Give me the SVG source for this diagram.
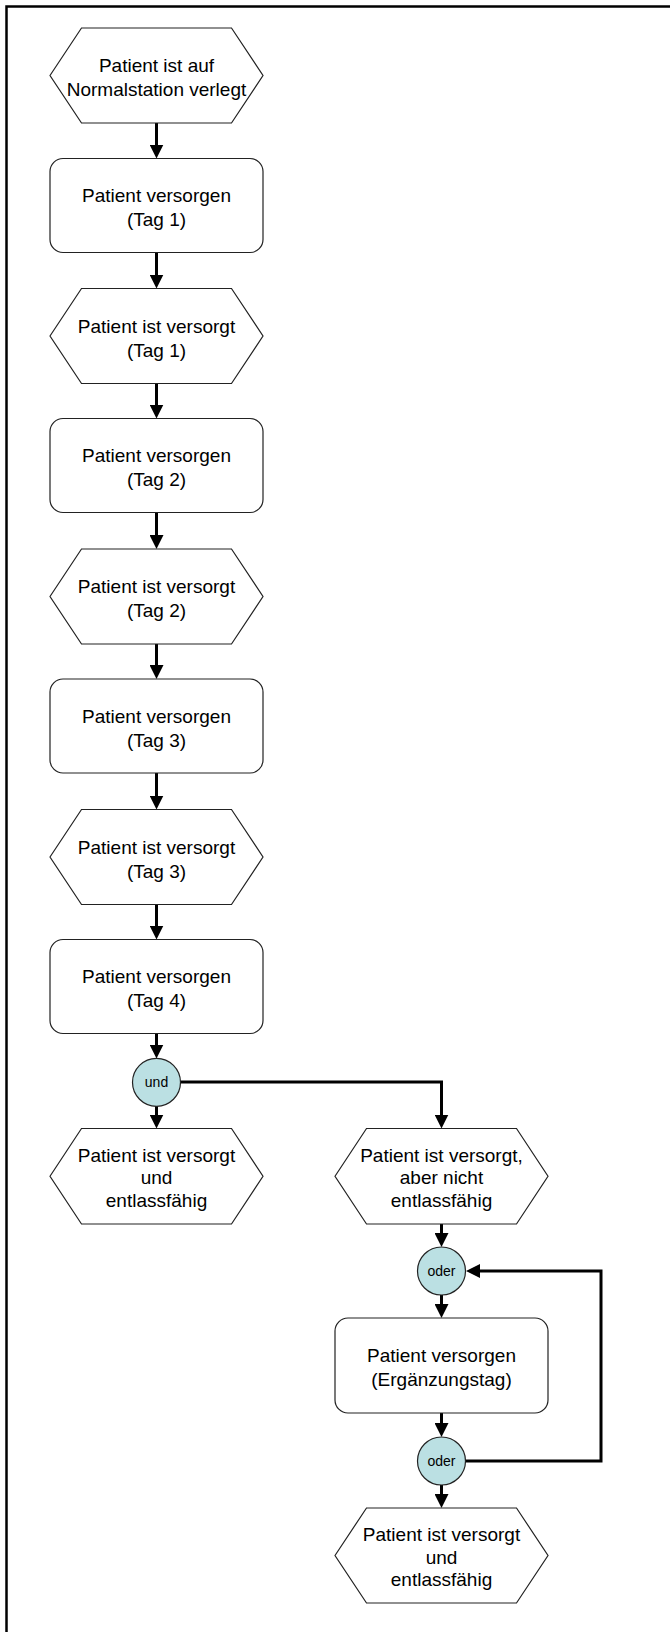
<svg xmlns="http://www.w3.org/2000/svg" width="670" height="1632" viewBox="0 0 670 1632">
  <defs>
    <marker id="arrow" markerUnits="userSpaceOnUse" markerWidth="14" markerHeight="14" viewBox="0 0 14 14" refX="1" refY="7" orient="auto">
      <path d="M0,0 L14,7 L0,14 z" fill="#000"/>
    </marker>
    <style>
      .frame { fill: none; stroke: #000; stroke-width: 2.5; }
      .event { fill: #fff; stroke: #222; stroke-width: 1.2; }
      .func { fill: #fff; stroke: #222; stroke-width: 1.2; }
      .op { fill: #bbe0e3; stroke: #222; stroke-width: 1.2; }
      .lbl { font-family: "Liberation Sans", Arial, sans-serif; font-size: 19px; fill: #000; text-anchor: middle; }
      .oplbl { font-family: "Liberation Sans", Arial, sans-serif; font-size: 14px; fill: #000; text-anchor: middle; }
      .conn { fill: none; stroke: #000; stroke-width: 3; marker-end: url(#arrow); }
      .connplain { fill: none; stroke: #000; stroke-width: 3; }
    </style>
  </defs>

  <rect x="0" y="0" width="670" height="1632" fill="#fff"/>
  <!-- page frame (left and top edges) -->
  <path class="frame" d="M6.5,1632 V6.5 H670"/>

  <!-- connectors -->
  <g id="connectors">
    <line class="conn" x1="156.5" y1="123" x2="156.5" y2="145.5"/>
    <line class="conn" x1="156.5" y1="252.5" x2="156.5" y2="275.5"/>
    <line class="conn" x1="156.5" y1="383.5" x2="156.5" y2="405.5"/>
    <line class="conn" x1="156.5" y1="512.5" x2="156.5" y2="536"/>
    <line class="conn" x1="156.5" y1="644" x2="156.5" y2="666"/>
    <line class="conn" x1="156.5" y1="773" x2="156.5" y2="796.5"/>
    <line class="conn" x1="156.5" y1="904.5" x2="156.5" y2="926.5"/>
    <line class="conn" x1="156.5" y1="1033.5" x2="156.5" y2="1045.5"/>
    <line class="conn" x1="156.5" y1="1106" x2="156.5" y2="1115.5"/>
    <path class="conn" d="M180.5,1082 H441.5 V1115.5"/>
    <line class="conn" x1="441.5" y1="1224" x2="441.5" y2="1234"/>
    <line class="conn" x1="441.5" y1="1295" x2="441.5" y2="1305"/>
    <line class="conn" x1="441.5" y1="1413" x2="441.5" y2="1424"/>
    <line class="conn" x1="441.5" y1="1485" x2="441.5" y2="1495"/>
    <path class="conn" d="M465.5,1461 H601 V1271 H479"/>
  </g>

  <!-- events and functions -->
  <g id="e-verlegt">
    <polygon class="event" points="50,75.5 81.5,28 231.5,28 263,75.5 231.5,123 81.5,123"/>
    <text class="lbl" x="156.5" y="72">Patient ist auf</text>
    <text class="lbl" x="156.5" y="96">Normalstation verlegt</text>
  </g>
  <g id="f-tag1">
    <rect class="func" x="50" y="158.5" width="213" height="94" rx="13"/>
    <text class="lbl" x="156.5" y="202">Patient versorgen</text>
    <text class="lbl" x="156.5" y="226">(Tag 1)</text>
  </g>
  <g id="e-tag1">
    <polygon class="event" points="50,336 81.5,288.5 231.5,288.5 263,336 231.5,383.5 81.5,383.5"/>
    <text class="lbl" x="156.5" y="332.5">Patient ist versorgt</text>
    <text class="lbl" x="156.5" y="356.5">(Tag 1)</text>
  </g>
  <g id="f-tag2">
    <rect class="func" x="50" y="418.5" width="213" height="94" rx="13"/>
    <text class="lbl" x="156.5" y="462">Patient versorgen</text>
    <text class="lbl" x="156.5" y="486">(Tag 2)</text>
  </g>
  <g id="e-tag2">
    <polygon class="event" points="50,596.5 81.5,549 231.5,549 263,596.5 231.5,644 81.5,644"/>
    <text class="lbl" x="156.5" y="593">Patient ist versorgt</text>
    <text class="lbl" x="156.5" y="617">(Tag 2)</text>
  </g>
  <g id="f-tag3">
    <rect class="func" x="50" y="679" width="213" height="94" rx="13"/>
    <text class="lbl" x="156.5" y="722.5">Patient versorgen</text>
    <text class="lbl" x="156.5" y="746.5">(Tag 3)</text>
  </g>
  <g id="e-tag3">
    <polygon class="event" points="50,857 81.5,809.5 231.5,809.5 263,857 231.5,904.5 81.5,904.5"/>
    <text class="lbl" x="156.5" y="853.5">Patient ist versorgt</text>
    <text class="lbl" x="156.5" y="877.5">(Tag 3)</text>
  </g>
  <g id="f-tag4">
    <rect class="func" x="50" y="939.5" width="213" height="94" rx="13"/>
    <text class="lbl" x="156.5" y="983">Patient versorgen</text>
    <text class="lbl" x="156.5" y="1007">(Tag 4)</text>
  </g>
  <g id="op-und">
    <circle class="op" cx="156.5" cy="1082.3" r="24"/>
    <text class="oplbl" x="156.5" y="1087">und</text>
  </g>
  <g id="e-entlassfaehig-1">
    <polygon class="event" points="50,1176.25 81.5,1128.5 231.5,1128.5 263,1176.25 231.5,1224 81.5,1224"/>
    <text class="lbl" x="156.5" y="1161.75">Patient ist versorgt</text>
    <text class="lbl" x="156.5" y="1184.25">und</text>
    <text class="lbl" x="156.5" y="1206.75">entlassfähig</text>
  </g>
  <g id="e-nicht-entlassfaehig">
    <polygon class="event" points="335,1176.25 366.5,1128.5 516.5,1128.5 548,1176.25 516.5,1224 366.5,1224"/>
    <text class="lbl" x="441.5" y="1161.75">Patient ist versorgt,</text>
    <text class="lbl" x="441.5" y="1184.25">aber nicht</text>
    <text class="lbl" x="441.5" y="1206.75">entlassfähig</text>
  </g>
  <g id="op-oder-1">
    <circle class="op" cx="441.5" cy="1271" r="24"/>
    <text class="oplbl" x="441.5" y="1276">oder</text>
  </g>
  <g id="f-ergaenzungstag">
    <rect class="func" x="335" y="1318" width="213" height="95" rx="13"/>
    <text class="lbl" x="441.5" y="1362">Patient versorgen</text>
    <text class="lbl" x="441.5" y="1386">(Ergänzungstag)</text>
  </g>
  <g id="op-oder-2">
    <circle class="op" cx="441.5" cy="1461" r="24"/>
    <text class="oplbl" x="441.5" y="1466">oder</text>
  </g>
  <g id="e-entlassfaehig-2">
    <polygon class="event" points="335,1555.5 366.5,1508 516.5,1508 548,1555.5 516.5,1603 366.5,1603"/>
    <text class="lbl" x="441.5" y="1541">Patient ist versorgt</text>
    <text class="lbl" x="441.5" y="1563.5">und</text>
    <text class="lbl" x="441.5" y="1586">entlassfähig</text>
  </g>
</svg>
